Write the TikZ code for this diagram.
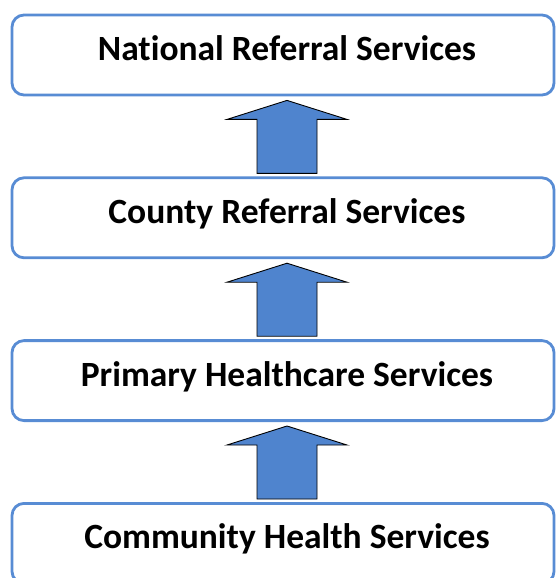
\documentclass[tikz,border=0pt]{standalone}
\usepackage{fontspec}
\setmainfont{Carlito}[RawFeature=-liga]
\usetikzlibrary{positioning, calc}

\definecolor{boxblue}{RGB}{88,140,212}
\definecolor{arrowblue}{RGB}{79,132,206}

\begin{document}
\begin{tikzpicture}[node distance=80pt,
        level/.style={draw=boxblue, line width=2.8pt, rounded corners=12pt, fill=white,
                minimum width=542pt, minimum height=80pt, inner sep=0pt,
                text height=25pt, text depth=14pt, execute at begin node=\hspace{8pt},
                font=\fontsize{35.5}{40}\selectfont\bfseries},
        uparrow/.style={draw=black, line width=0.9pt, fill=arrowblue, line join=miter}]
        \useasboundingbox (0,0) rectangle (556pt,-578pt);
        \node[level] (national) at (283pt,-55pt) {National Referral Services};
        \node[level, below=of national] (county) {County Referral Services};
        \node[level, below=of county] (primary) {Primary Healthcare Services};
        \node[level, below=of primary] (community) {Community Health Services};
        % block arrows between the levels
        \foreach \lo/\hi in {community/primary, primary/county, county/national}
                \draw[uparrow] let \p1=(\hi.south), \p2=(\lo.north) in
                        (\x1+34pt,\y2+3pt) -- (\x1+34pt,\y1-23pt) -- (\x1+64pt,\y1-23pt)
                        -- (\x1+4pt,\y1-4pt) -- (\x1-56pt,\y1-23pt) -- (\x1-26pt,\y1-23pt)
                        -- (\x1-26pt,\y2+3pt) -- cycle;
\end{tikzpicture}
\end{document}
